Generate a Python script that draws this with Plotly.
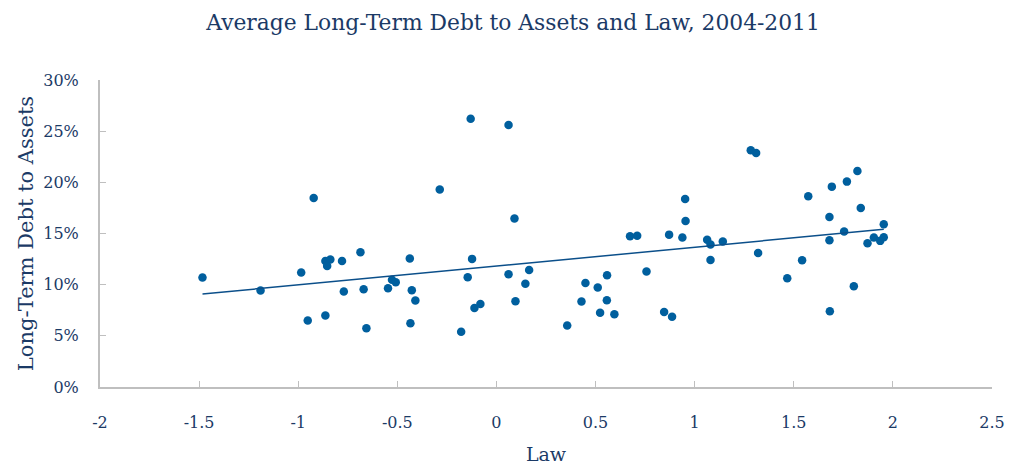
import numpy as np
import plotly.graph_objects as go

# Law index (x) and average long-term debt to assets, % (y)
law = [-1.483, -1.19, -0.922, -0.985, -0.863, -0.838, -0.854, -0.779, -0.686, -0.770,
       -0.670, -0.547, -0.527, -0.508, -0.952, -0.863, -0.656,
       -0.437, -0.427, -0.409, -0.434, -0.286, -0.130, 0.061, -0.178, -0.123, -0.145,
       -0.111, -0.081, 0.091, 0.061, 0.165, 0.146, 0.096, 0.357, 0.449, 0.429, 0.511,
       0.558, 0.557, 0.523, 0.595, 0.674, 0.710, 0.757, 0.871, 0.938, 0.952, 0.954,
       0.846, 0.886,
       1.063, 1.080, 1.142, 1.080, 1.283, 1.310, 1.320, 1.467, 1.542, 1.573, 1.680,
       1.692, 1.680, 1.682, 1.768, 1.754, 1.821, 1.838, 1.803, 1.872, 1.904, 1.936,
       1.954, 1.954]
debt_pct = [10.69, 9.42, 18.48, 11.18, 12.32, 12.45, 11.83, 12.32, 13.17, 9.33,
            9.55, 9.65, 10.47, 10.24, 6.49, 6.98, 5.74,
            12.55, 9.45, 8.45, 6.23, 19.29, 26.22, 25.6, 5.39, 12.52, 10.72,
            7.73, 8.12, 16.46, 11.02, 11.44, 10.08, 8.38, 6.01, 10.17, 8.35, 9.72,
            10.92, 8.48, 7.25, 7.11, 14.73, 14.79, 11.28, 14.89, 14.6, 18.38, 16.23,
            7.34, 6.86,
            14.40, 13.92, 14.21, 12.42, 23.13, 22.87, 13.1, 10.63, 12.38, 18.63, 16.62,
            19.58, 14.34, 7.40, 20.07, 15.19, 21.11, 17.5, 9.84, 14.04, 14.6, 14.28,
            14.63, 15.9]

x_ticks = [-2, -1.5, -1, -0.5, 0, 0.5, 1, 1.5, 2, 2.5]
x_tick_labels = ["-2", "-1.5", "-1", "-0.5", "0", "0.5", "1", "1.5", "2", "2.5"]
y_ticks = [0, 0.05, 0.10, 0.15, 0.20, 0.25, 0.30]
y_tick_labels = ["0%", "5%", "10%", "15%", "20%", "25%", "30%"]

x = np.array(law)
y = np.array(debt_pct) / 100.0

# linear trend line from the data
slope, intercept = np.polyfit(x, y, 1)
xt = np.array([x.min(), x.max()])
yt = intercept + slope * xt

navy = "#1b3a66"
font_family = "DejaVu Serif"

fig = go.Figure()
fig.add_trace(go.Scatter(x=x, y=y, mode="markers",
                         marker=dict(color="#005f9e", size=8.5),
                         showlegend=False, hoverinfo="x+y", cliponaxis=False))
fig.add_trace(go.Scatter(x=xt, y=yt, mode="lines",
                         line=dict(color="#0b4f8a", width=1.5),
                         showlegend=False, hoverinfo="skip"))

fig.update_layout(
    width=1009, height=466,
    paper_bgcolor="white", plot_bgcolor="white",
    margin=dict(l=100, r=17, t=80, b=79, autoexpand=False),
    font=dict(family=font_family, color=navy),
    title=dict(text="Average Long-Term Debt to Assets and Law, 2004-2011",
               x=0.5085, xanchor="center", y=1 - 22 / 466, yanchor="middle",
               font=dict(size=21.8, color=navy, family=font_family)),
)
fig.update_xaxes(
    range=[-2, 2.5], tickvals=x_ticks, ticktext=x_tick_labels,
    showgrid=False, zeroline=False, automargin=False,
    showline=True, linecolor="#bfbfbf", linewidth=2,
    ticks="inside", ticklen=6, tickcolor="#bfbfbf", tickwidth=1,
    tickfont=dict(size=16, color=navy, family=font_family),
    ticklabelstandoff=20,
    title=dict(text="Law", font=dict(size=19, color=navy, family=font_family), standoff=16),
)
fig.update_yaxes(
    range=[0, 0.30], tickvals=y_ticks, ticktext=y_tick_labels,
    showgrid=False, zeroline=False, automargin=False,
    showline=True, linecolor="#bfbfbf", linewidth=2,
    ticks="inside", ticklen=6, tickcolor="#bfbfbf", tickwidth=1,
    tickfont=dict(size=16, color=navy, family=font_family),
    ticklabelstandoff=16,
    title=dict(text="Long-Term Debt to Assets", font=dict(size=21, color=navy, family=font_family), standoff=4),
)

# remove the browser's default 8px page margin so the figure fills the window exactly
fig.write_html("out.html",
               config={"displayModeBar": False},
               post_script="document.body.style.margin='0';document.body.style.overflow='hidden';")
